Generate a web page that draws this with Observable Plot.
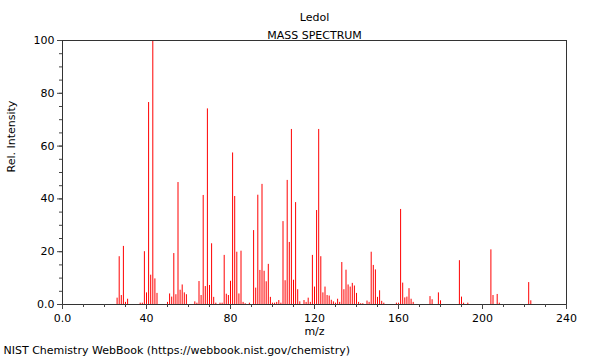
<!DOCTYPE html>
<html>
<head>
<meta charset="utf-8">
<script src="https://cdn.jsdelivr.net/npm/d3@7"></script>
<script src="https://cdn.jsdelivr.net/npm/@observablehq/plot@0.6"></script>
<style>
  html, body { margin: 0; padding: 0; background: #fff; }
</style>
</head>
<body>
<div id="chart"></div>
<script>
const title = "Ledol";
const subtitle = "MASS SPECTRUM";
const caption = "NIST Chemistry WebBook (https://webbook.nist.gov/chemistry)";
const xLabel = "m/z";
const yLabel = "Rel. Intensity";

const mz = [26,27,28,29,30,31,37,38,39,40,41,42,43,44,45,50,51,52,53,54,55,56,57,58,59,
  63,64,65,66,67,68,69,70,71,72,73,75,76,77,78,79,80,81,82,83,84,85,86,87,89,
  91,92,93,94,95,96,97,98,99,100,101,102,103,104,105,106,107,108,109,110,111,112,113,
  115,116,117,118,119,120,121,122,123,124,125,126,127,128,129,130,131,132,133,134,135,
  136,137,138,139,140,141,142,143,145,146,147,148,149,150,151,152,153,159,160,161,162,
  163,164,165,166,167,175,176,179,180,189,190,191,193,204,205,207,208,222,223];
const intensity = [2.4,18.1,3.4,22,0.8,2.0,0.5,0.5,20,4.4,76.5,11.1,100,9.7,4.2,0.8,4,2.8,19.3,3.7,46.2,5.4,7.4,4.4,3.7,
  1,0.5,8.7,3.4,41.3,6.8,74.1,7.2,23,2.7,0.5,0.5,0.5,18.6,3.9,3.4,8.8,57.4,40.9,19.8,4,20.2,0.8,0.3,0.5,
  28,6.2,41.4,12.9,45.5,12.6,8.6,15.2,2.7,0.5,0.5,0.8,1.5,0.5,31.4,9,47,23.5,66.3,9.2,38.6,5.6,1,
  1.5,0.8,2.4,0.8,18.6,6.6,35.6,66.3,18.1,4.4,6.6,3.4,3.2,1.6,1,0.5,2,0.8,15.9,5.6,13,
  7.4,6.6,8,7,4.2,0.8,0.3,0.3,1.3,0.8,19.8,14.8,13.1,2.7,5.2,1.2,0.5,0.5,0.5,36,8.1,
  2.5,2.8,6,2,0.8,3,1.8,4.4,1.4,16.6,2.8,0.5,0.5,20.7,3.4,3.8,0.5,8.3,1.4];

const xMajor = [0,40,80,120,160,200,240];
const xMinor = d3.range(0, 241, 10);
const yMajor = [0,20,40,60,80,100];
const yMinor = d3.range(0, 101, 5);

const peaks = mz.map((m, i) => ({mz: m, intensity: intensity[i]}));
const fmt = d => d === 0 ? "0.0" : String(d);
const axisColor = "#444";

const chart = Plot.plot({
  width: 600,
  height: 360,
  marginTop: 40,
  marginBottom: 56,
  marginLeft: 62,
  marginRight: 34,
  style: {fontFamily: "DejaVu Sans", fontSize: "11px", color: "#000", background: "#fff"},
  x: {domain: [0, 240]},
  y: {domain: [0, 100]},
  marks: [
    Plot.ruleX(peaks, {x: "mz", y1: 0, y2: "intensity", stroke: "#ff0000", strokeWidth: 1}),
    Plot.frame({stroke: "#333", strokeWidth: 1}),
    Plot.axisY({ticks: yMinor, tickSize: 3, tickFormat: null, text: null, label: null, stroke: axisColor}),
    Plot.axisY({ticks: yMajor, tickSize: 5, tickPadding: 3, tickFormat: fmt, label: null, stroke: axisColor, fill: "#000", fontSize: 11}),
    Plot.axisX({ticks: xMinor, tickSize: 3, text: null, label: null, stroke: axisColor}),
    Plot.axisX({ticks: xMajor, tickSize: 5, tickPadding: 5, tickFormat: fmt, label: null, stroke: axisColor, fill: "#000", fontSize: 11}),
    Plot.text([title], {frameAnchor: "top", dy: -27, text: d => d, fill: "#000", fontSize: 11}),
    Plot.text([subtitle], {frameAnchor: "top", dy: -9, text: d => d, fill: "#000", fontSize: 11}),
    Plot.text([xLabel], {frameAnchor: "bottom", dy: 30, text: d => d, fill: "#000", fontSize: 11}),
    Plot.text([yLabel], {frameAnchor: "left", dx: -51, rotate: -90, text: d => d, fill: "#000", fontSize: 11}),
    Plot.text([caption], {frameAnchor: "bottom-left", dx: -59, dy: 49, textAnchor: "start", text: d => d, fill: "#000", fontSize: 11})
  ]
});
document.getElementById("chart").appendChild(chart);
</script>
</body>
</html>
